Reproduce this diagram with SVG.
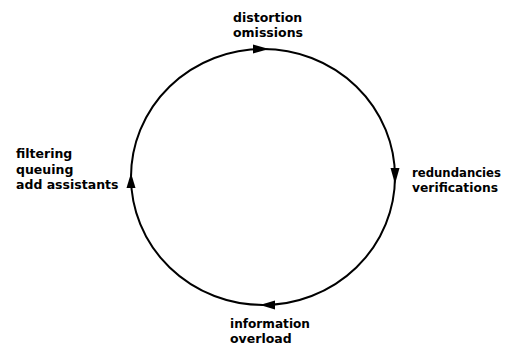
<svg xmlns="http://www.w3.org/2000/svg" width="506" height="345" viewBox="0 0 506 345">
<style>
.lbl{font-family:"DejaVu Sans","Open Sans",sans-serif;font-weight:bold;font-size:12.5px;fill:#000}
.ring{fill:none;stroke:#000;stroke-width:2}
.ah{fill:#000}
</style>
<rect width="506" height="345" fill="#fff"/>
<g id="connectors">
<ellipse class="ring" cx="263" cy="177" rx="132" ry="128"/>
<path class="ah" d="M269,49 L253,44.5 L253,53.5 Z"/>
<path class="ah" d="M395,184 L390.5,168 L399.5,168 Z"/>
<path class="ah" d="M260,305 L275,300.5 L275,309.5 Z"/>
<path class="ah" d="M131,173 L126.5,188 L135.5,188 Z"/>
</g>
<g id="top"><text class="lbl" x="233" y="22">distortion</text><text class="lbl" x="233" y="37">omissions</text></g>
<g id="right"><text class="lbl" x="412" y="177" textLength="89" lengthAdjust="spacingAndGlyphs">redundancies</text><text class="lbl" x="412" y="192" textLength="86" lengthAdjust="spacingAndGlyphs">verifications</text></g>
<g id="bottom"><text class="lbl" x="230" y="328" textLength="80" lengthAdjust="spacingAndGlyphs">information</text><text class="lbl" x="230" y="343">overload</text></g>
<g id="left"><text class="lbl" x="16" y="158">filtering</text><text class="lbl" x="16" y="173.5">queuing</text><text class="lbl" x="16" y="189">add assistants</text></g>
</svg>
